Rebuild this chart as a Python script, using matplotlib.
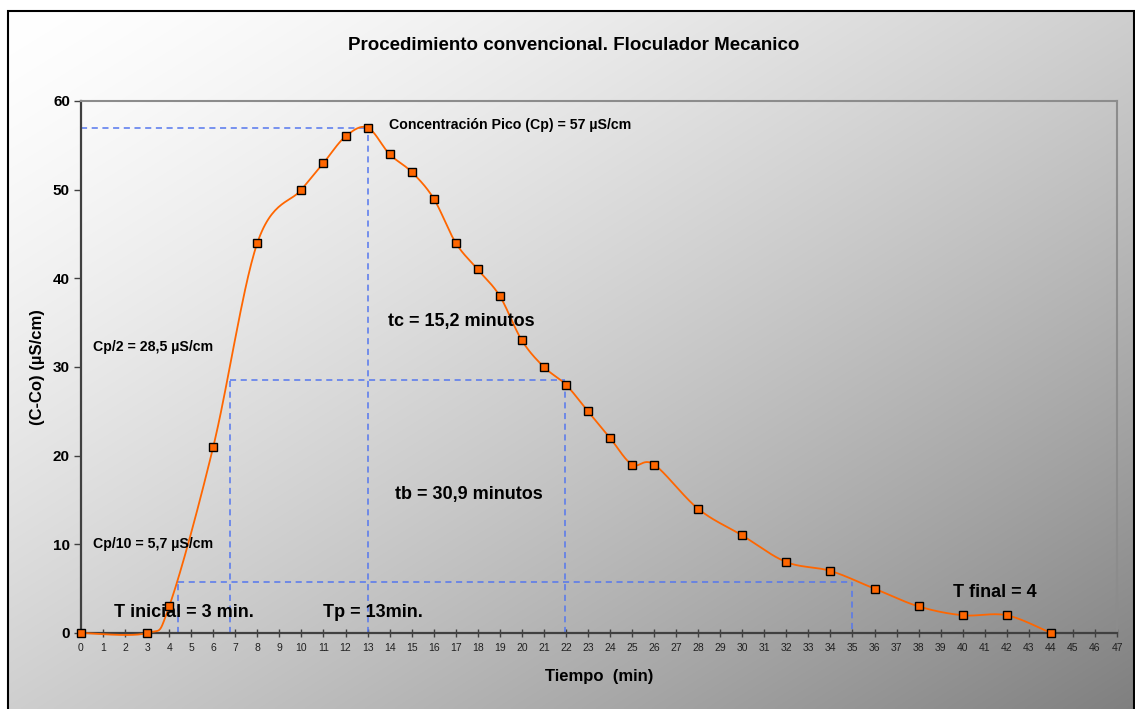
import numpy as np
import matplotlib.pyplot as plt
from matplotlib.patches import Rectangle

##---- Data ----##

tiempo = [0, 3, 4, 6, 8, 10, 11, 12, 13, 14, 15, 16, 17, 18, 19, 20, 21, 22,
          23, 24, 25, 26, 28, 30, 32, 34, 36, 38, 40, 42, 44]
conc = [0, 0, 3, 21, 44, 50, 53, 56, 57, 54, 52, 49, 44, 41, 38, 33, 30, 28,
        25, 22, 19, 19, 14, 11, 8, 7, 5, 3, 2, 2, 0]

cp = 57.0
t_pico = 13
t_cp2 = [6.75, 21.94]   # cruce con Cp/2
t_cp10 = [4.4, 35.0]    # cruce con Cp/10

x_ticks = list(range(0, 48))
y_ticks = [0, 10, 20, 30, 40, 50, 60]

W, H = 1135, 709
SX, SY = 22.04, 8.87   # px por unidad, para suavizar en espacio de pantalla

BOLD = ['Liberation Sans', 'DejaVu Sans']
NARROW = ['Liberation Sans Narrow', 'Liberation Sans', 'DejaVu Sans']


def smooth_curve(xs, ys, n=30):
    # segmentos de Bezier tipo "linea suavizada" de hoja de calculo
    pts = np.column_stack([np.asarray(xs, float) * SX, np.asarray(ys, float) * SY])
    ext = np.vstack([pts[0], pts, pts[-1]])
    t = np.linspace(0, 1, n)[:, None]
    out = []
    for i in range(len(pts) - 1):
        p0, p1, p2, p3 = ext[i], ext[i + 1], ext[i + 2], ext[i + 3]
        c1 = p1 + (p2 - p0) / 6
        c2 = p2 - (p3 - p1) / 6
        seg = (1 - t)**3 * p1 + 3 * (1 - t)**2 * t * c1 + 3 * (1 - t) * t**2 * c2 + t**3 * p2
        out.append(seg if i == 0 else seg[1:])
    out = np.vstack(out)
    return out[:, 0] / SX, out[:, 1] / SY


fig = plt.figure(figsize=(W / 100, H / 100), dpi=100)

##---- Fondo degradado ----##
bg_left, bg_top = 8 / W, 11 / H
bg = fig.add_axes([bg_left, 0, 1 - bg_left - 1 / W, 1 - bg_top])
gx, gy = np.meshgrid(np.linspace(0, 1, 400), np.linspace(0, 1, 300))
g = ((gx + gy) / 2) ** 1.4
shade = 1.0 - 0.5 * g
bg.imshow(np.dstack([shade, shade, shade]), aspect='auto', extent=[0, 1, 0, 1],
          interpolation='bilinear')
bg.axis('off')
bg.set_zorder(0)
fig.patches.append(Rectangle((bg_left, -0.02), 1 - bg_left - 1.5 / W, 1.02 - bg_top,
                             transform=fig.transFigure, fill=False,
                             edgecolor='black', linewidth=1.5, zorder=5))

##---- Grafico ----##
ax = fig.add_axes([81 / W, (H - 633) / H, (1117 - 81) / W, (633 - 101) / H])
ax.set_zorder(1)
ax.set_facecolor('none')
ax.set_xlim(0, 47)
ax.set_ylim(0, 60)

dash = dict(color='#5577ee', linewidth=1.1, linestyle=(0, (4, 3)), zorder=2)
ax.plot([0, t_pico], [cp, cp], **dash)
ax.plot([t_pico, t_pico], [0, cp], **dash)
ax.plot(t_cp2, [cp / 2, cp / 2], **dash)
for t in t_cp2:
    ax.plot([t, t], [0, cp / 2], **dash)
ax.plot(t_cp10, [cp / 10, cp / 10], **dash)
ax.plot([t_cp10[0], t_cp10[0]], [0, cp / 10], **dash)
ax.plot([t_cp10[1], t_cp10[1]], [0.5, cp / 10], **dash)

sx, sy = smooth_curve(tiempo, conc)
ax.plot(sx, sy, color='#ff6600', linewidth=1.3, zorder=3, clip_on=False)
ax.plot(tiempo, conc, linestyle='none', marker='s', markersize=6,
        markerfacecolor='#ff6600', markeredgecolor='black', markeredgewidth=1.0,
        zorder=4, clip_on=False)

for side in ['left', 'bottom']:
    ax.spines[side].set_color('#404040')
    ax.spines[side].set_linewidth(1.6)
for side in ['top', 'right']:
    ax.spines[side].set_color('#8c8c8c')
    ax.spines[side].set_linewidth(1.5)

ax.set_xticks(x_ticks)
ax.set_xticklabels([str(v) for v in x_ticks], fontsize=7.5, family=NARROW, color='#202020')
ax.set_yticks(y_ticks)
ax.set_yticklabels([str(v) for v in y_ticks], fontsize=11, family=BOLD, fontweight='bold')
ax.tick_params(axis='x', direction='inout', length=6, width=1, color='#404040', pad=4)
ax.tick_params(axis='y', direction='out', length=5, width=1, color='#404040', pad=3)

ax.set_xlabel('Tiempo  (min)', fontsize=12, family=BOLD, fontweight='bold', labelpad=12)
ax.set_ylabel('(C-Co) (\u00b5S/cm)', fontsize=12, family=BOLD, fontweight='bold', labelpad=6)
fig.text(574 / W, 1 - 46 / H, 'Procedimiento convencional. Floculador Mecanico',
         ha='center', va='center', fontsize=13.5, family=BOLD, fontweight='bold')

##---- Anotaciones ----##
small = dict(fontsize=10.2, family=BOLD, fontweight='bold', va='center', ha='left')
big = dict(fontsize=13, family=BOLD, fontweight='bold', va='center', ha='left')
ax.text(13.97, 57.3, 'Concentraci\u00f3n Pico (Cp) = 57 \u00b5S/cm', **small)
ax.text(0.54, 32.2, 'Cp/2 = 28,5 \u00b5S/cm', **small)
ax.text(0.54, 10.0, 'Cp/10 = 5,7 \u00b5S/cm', **small)
ax.text(13.93, 35.1, 'tc = 15,2 minutos', **big)
ax.text(14.25, 15.6, 'tb = 30,9 minutos', **big)
ax.text(1.5, 2.3, 'T inicial = 3 min.', **big)
ax.text(10.98, 2.3, 'Tp = 13min.', **big)
ax.text(39.56, 4.6, 'T final = 4', **big)

fig.savefig('out.png', dpi=100)
